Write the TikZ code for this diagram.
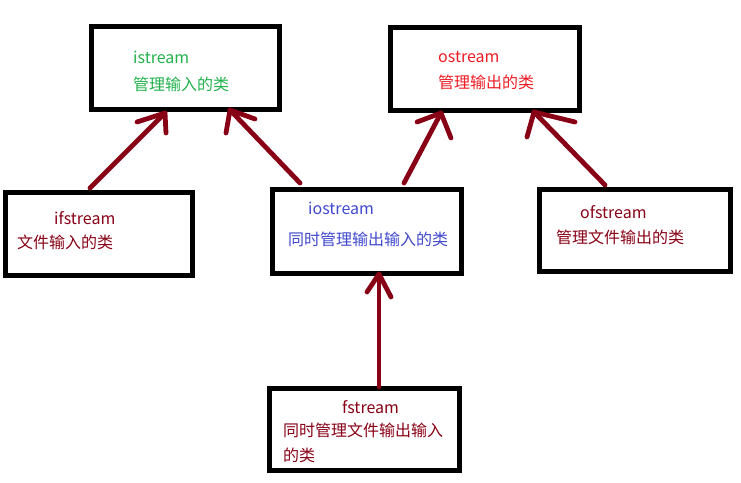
\documentclass[tikz,border=0pt]{standalone}
\usepackage{fontspec}
\setmainfont{Noto Sans CJK SC}
\definecolor{pgreen}{HTML}{22B14C}
\definecolor{pred}{HTML}{ED1C24}
\definecolor{pdark}{HTML}{880015}
\definecolor{pblue}{HTML}{3F48CC}
\begin{document}
\begin{tikzpicture}[x=1pt,y=-1pt,
  classbox/.style={draw=black,line width=5pt},
  lbl/.style={anchor=base west,inner sep=0pt,font=\fontsize{16}{19}\selectfont},
  harrow/.style={draw=pdark,line width=4.8pt,line cap=round,line join=round}]
\useasboundingbox (0,0) rectangle (741,482);
% boxes
\draw[classbox] (91.5,26.5) rectangle (279.5,109.5);
\draw[classbox] (390.5,27.5) rectangle (579.5,110.5);
\draw[classbox] (5.5,192.5) rectangle (192.5,275.5);
\draw[classbox] (272.5,189.5) rectangle (461.5,273.5);
\draw[classbox] (539.5,189.5) rectangle (730.5,271.5);
\draw[classbox] (269.5,388.5) rectangle (459.5,470.5);
% named anchors on the boxes
\coordinate (istreamA) at (165,113);
\coordinate (istreamB) at (230,110);
\coordinate (ostreamA) at (441,113);
\coordinate (ostreamB) at (534,112);
\coordinate (ifstreamT) at (90,188);
\coordinate (iostreamL) at (300,183);
\coordinate (iostreamR) at (404,183);
\coordinate (iostreamB) at (379,274);
\coordinate (ofstreamT) at (605,185);
\coordinate (fstreamT) at (379,387);
% texts
\node[lbl,text=pgreen] (t1) at (133,63) {istream};
\node[lbl,text=pgreen] (t1c) at (133,90.5) {管理输入的类};
\node[lbl,text=pred] (t2) at (438,62) {ostream};
\node[lbl,text=pred] (t2c) at (438,88.5) {管理输出的类};
\node[lbl,text=pdark] (t3) at (54,224) {ifstream};
\node[lbl,text=pdark] (t3c) at (17,248.5) {文件输入的类};
\node[lbl,text=pblue] (t4) at (308,214) {iostream};
\node[lbl,text=pblue] (t4c) at (288,245.5) {同时管理输出输入的类};
\node[lbl,text=pdark] (t5) at (580,218) {ofstream};
\node[lbl,text=pdark] (t5c) at (556,243.5) {管理文件输出的类};
\node[lbl,text=pdark] (t6) at (342,413) {fstream};
\node[lbl,text=pdark] (t6c) at (283,436.5) {同时管理文件输出输入};
\node[lbl,text=pdark] (t6d) at (283,461.5) {的类};
% arrows (hand-drawn style)
\draw[harrow] (ifstreamT) -- (istreamA);
\draw[harrow] (137,122) -- (istreamA) -- (166,133);
\draw[harrow] (iostreamL) -- (istreamB);
\draw[harrow] (226,133) -- (istreamB) -- (255,119);
\draw[harrow] (iostreamR) -- (ostreamA);
\draw[harrow] (417,122) -- (ostreamA) -- (451,138);
\draw[harrow] (ofstreamT) -- (ostreamB);
\draw[harrow] (527,137) -- (ostreamB) -- (575,122);
\draw[harrow] (fstreamT) -- (iostreamB);
\draw[harrow] (367,292) -- (iostreamB) -- (391,297);
\end{tikzpicture}
\end{document}
